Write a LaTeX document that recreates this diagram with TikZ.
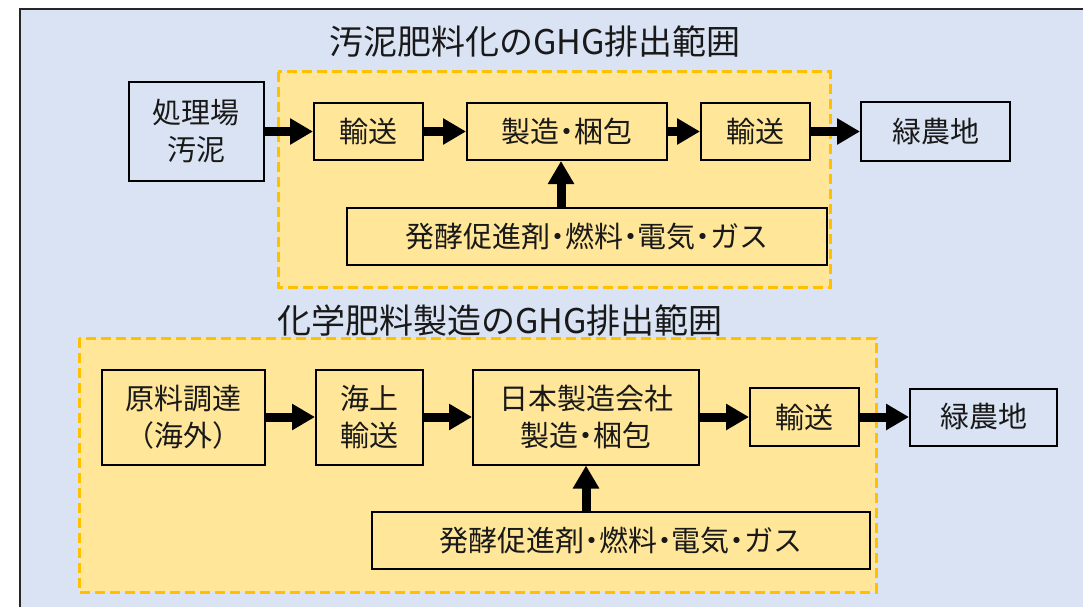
\documentclass[tikz,border=0pt]{standalone}
\usepackage{fontspec}
\setmainfont{Noto Sans CJK JP}
\usetikzlibrary{arrows.meta}
\definecolor{bgblue}{HTML}{DAE3F3}
\definecolor{scopeyellow}{HTML}{FFE699}
\definecolor{scopegold}{HTML}{FFC000}
\newcommand{\nakaguro}{\makebox[0.5em]{・}}
\begin{document}
\begin{tikzpicture}[x=1pt,y=-1pt,
    stepbox/.style={draw=black, line width=2pt, fill=scopeyellow, align=center,
        inner sep=0pt, text=black!90, font=\fontsize{29}{37}\selectfont},
    endbox/.style={stepbox, fill=bgblue},
    scopearea/.style={fill=scopeyellow, draw=scopegold, line width=3pt,
        dash pattern=on 10pt off 5pt},
    scopetitle/.style={text=black!90, font=\fontsize{34}{38}\selectfont},
    flow/.style={line width=9pt, -{Triangle[length=23pt,width=25pt]}}]
    \useasboundingbox (0,0) rectangle (1083,607);
    \clip (0,0) rectangle (1083,607);
    \draw[line width=2pt, draw=black!85, fill=bgblue] (20,9) rectangle (1100,630);

    % sludge fertiliser
    \node[scopetitle] (title1) at (535,42) {汚泥肥料化のGHG排出範囲};
    \draw[scopearea] (278,72) rectangle (830,287);
    \node[endbox, minimum width=135pt, minimum height=98pt] (sludge) at (196,131.5) {処理場\\汚泥};
    \node[stepbox, minimum width=109pt, minimum height=57pt] (trans1) at (368.5,131.5) {輸送};
    \node[stepbox, minimum width=200pt, minimum height=57pt] (make1) at (567,131.5) {製造\nakaguro 梱包};
    \node[stepbox, minimum width=109pt, minimum height=57pt] (trans2) at (755.5,131.5) {輸送};
    \node[endbox, minimum width=149pt, minimum height=58pt] (farm1) at (935.5,131.5) {緑農地};
    \node[stepbox, minimum width=480pt, minimum height=57pt] (input1) at (587,236.5)
        {発酵促進剤\nakaguro 燃料\nakaguro 電気\nakaguro ガス};
    \coordinate (up1) at ([xshift=-6pt]make1.south);

    \draw[flow] (sludge) -- (trans1);
    \draw[flow] (trans1) -- (make1);
    \draw[flow] (make1) -- (trans2);
    \draw[flow] (trans2) -- (farm1);
    \draw[flow] (up1 |- input1.north) -- (up1);

    % chemical fertiliser
    \node[scopetitle] (title2) at (500,321) {化学肥料製造のGHG排出範囲};
    \draw[scopearea] (79,338) rectangle (876,592);
    \node[stepbox, minimum width=163pt, minimum height=95pt] (raw) at (183,417) {原料調達\\（海外）};
    \node[stepbox, minimum width=107pt, minimum height=95pt] (sea) at (369.5,417) {海上\\輸送};
    \node[stepbox, minimum width=226pt, minimum height=95pt] (make2) at (586,417) {日本製造会社\\製造\nakaguro 梱包};
    \node[stepbox, minimum width=109pt, minimum height=58pt] (trans3) at (804.5,417) {輸送};
    \node[endbox, minimum width=147pt, minimum height=57pt] (farm2) at (983.5,417) {緑農地};
    \node[stepbox, minimum width=498pt, minimum height=57pt] (input2) at (621,540.5)
        {発酵促進剤\nakaguro 燃料\nakaguro 電気\nakaguro ガス};

    \draw[flow] (raw) -- (sea);
    \draw[flow] (sea) -- (make2);
    \draw[flow] (make2) -- (trans3);
    \draw[flow] (trans3) -- (farm2);
    \draw[flow] (make2.south |- input2.north) -- (make2.south);
\end{tikzpicture}
\end{document}
